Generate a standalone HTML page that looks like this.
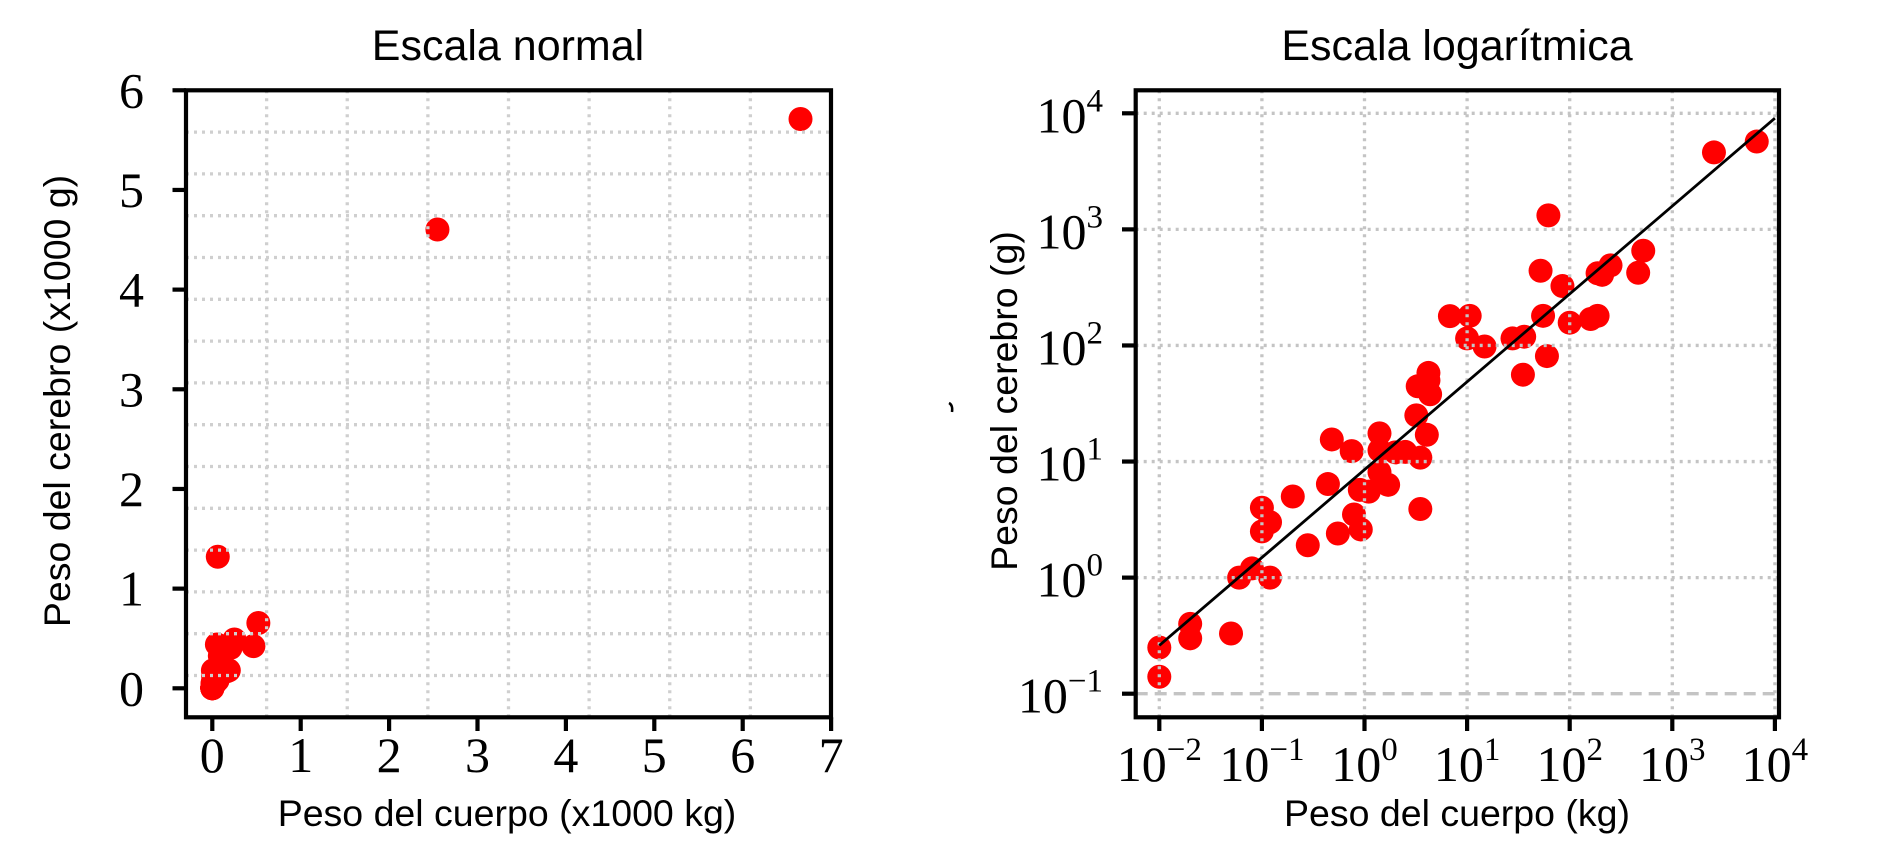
<!DOCTYPE html>
<html><head><meta charset="utf-8">
<style>
html,body{margin:0;padding:0;background:#fff;}
svg{display:block;}
.sans{font-family:"Liberation Sans",Arial,sans-serif;}
.serif{font-family:"Liberation Serif","Times New Roman",serif;}
</style></head>
<body>
<svg id="chart" width="1900" height="850" viewBox="0 0 1900 850" xmlns="http://www.w3.org/2000/svg">
<rect width="1900" height="850" fill="#fff"/>
<g id="left"></g>
<g id="right"></g>
<path d="M949 403 q4 2 3 9" stroke="#000" stroke-width="2.5" fill="none"/>
</svg>
<script>
const bodyKg = [0.01,0.01,0.02,0.02,0.05,0.06,0.08,0.12,0.1,0.1,0.12,0.2,0.28,0.44,0.48,0.55,0.75,0.79,0.9,0.92,1.1,1.4,1.4,1.4,1.7,2,2.5,3.2,3.3,3.5,3.5,4.05,4.2,4.2,4.36,6.8,10.6,10,14.8,27.7,36,35,52,55,60,62,85,100,160,187,187,207,250,465,521,2547,6654];
const brainG = [0.25,0.14,0.4,0.3,0.33,1.0,1.2,1.0,4,2.5,3,5,1.9,6.4,15.5,2.4,12.3,3.5,5.7,2.6,5.5,17.5,12.5,8.1,6.3,12,12.1,25,44.5,10.8,3.9,17,58,50,38,179,180,115,98,115,119,56,440,180,81,1320,325,157,169,180,419,406,490,423,655,4603,5712];
const linTicksX = [0,1,2,3,4,5,6,7];
const linTicksY = [0,1,2,3,4,5,6];
const logTicksX = [-2,-1,0,1,2,3,4];
const logTicksY = [-1,0,1,2,3,4];
const fitSlope = 0.757;
const fitIntercept = 0.93;
const fitRangeLog = [-2,4];

const NS = "http://www.w3.org/2000/svg";
function mk(parent, tag, attrs, text){
  const e = document.createElementNS(NS, tag);
  for (const k in attrs) e.setAttribute(k, attrs[k]);
  if (text !== undefined) e.textContent = text;
  parent.appendChild(e);
  return e;
}
const PR = 12;
const TF = 50, EF = 33;
const BW = 4.2, GW = 3.3;

// ---- Left panel (linear) ----
const L = document.getElementById('left');
const lx = v => 212.3 + v * 88.4;
const ly = v => 688.3 - v * 99.67;
const lbox = {x0:186, x1:831, y0:90.3, y1:717.3};

bodyKg.forEach((b, i) => {
  const c = mk(L, 'circle', {cx: lx(b/1000), cy: ly(brainG[i]/1000), r: PR, fill: '#ff0000'});
  
  
});
for (let k = 1; k <= 7; k++) {
  const x = lbox.x0 + k * (lbox.x1 - lbox.x0) / 8;
  const g = mk(L, 'line', {x1:x, x2:x, y1:lbox.y0, y2:lbox.y1, stroke:'#cfcfcf', 'stroke-width':GW, 'stroke-dasharray':'3,5'});
  
  
}
for (let k = 1; k <= 14; k++) {
  const y = lbox.y0 + k * (lbox.y1 - lbox.y0) / 15;
  const g = mk(L, 'line', {x1:lbox.x0, x2:lbox.x1, y1:y, y2:y, stroke:'#cfcfcf', 'stroke-width':GW, 'stroke-dasharray':'3,5'});
  
  
}
const lb = mk(L, 'rect', {x:lbox.x0, y:lbox.y0, width:lbox.x1-lbox.x0, height:lbox.y1-lbox.y0, fill:'none', stroke:'#000', 'stroke-width':BW});


linTicksX.forEach(v => {
  const t = mk(L, 'line', {x1:lx(v), x2:lx(v), y1:lbox.y1, y2:731, stroke:'#000', 'stroke-width':BW});
  
  
  const tl = mk(L, 'text', {x:lx(v), y:772, 'text-anchor':'middle', 'font-size':TF, class:'serif'}, String(v));
  
  
});
linTicksY.forEach(v => {
  const t = mk(L, 'line', {x1:172.5, x2:lbox.x0, y1:ly(v), y2:ly(v), stroke:'#000', 'stroke-width':BW});
  
  
  const tl = mk(L, 'text', {x:144, y:ly(v)+17, 'text-anchor':'end', 'font-size':TF, class:'serif'}, String(v));
  
  
});
let t1 = mk(L, 'text', {x:508, y:60, 'text-anchor':'middle', 'font-size':43, class:'sans'}, 'Escala normal');


let xl1 = mk(L, 'text', {x:507, y:826, 'text-anchor':'middle', 'font-size':37.5, class:'sans'}, 'Peso del cuerpo (x1000 kg)');


let yl1 = mk(L, 'text', {x:0, y:0, 'text-anchor':'middle', 'font-size':37.5, class:'sans', transform:'translate(70,401) rotate(-90)'}, 'Peso del cerebro (x1000 g)');



// ---- Right panel (log) ----
const R = document.getElementById('right');
const rx = lv => 1159.3 + (lv + 2) * 102.6;
const ry = lv => 693.7 - (lv + 1) * 116.08;
const rbox = {x0:1135.7, x1:1779, y0:90.3, y1:717.3};

bodyKg.forEach((b, i) => {
  const c = mk(R, 'circle', {cx: rx(Math.log10(b)), cy: ry(Math.log10(brainG[i])), r: PR, fill: '#ff0000'});
  
  
});
logTicksX.forEach(v => {
  const g = mk(R, 'line', {x1:rx(v), x2:rx(v), y1:rbox.y0, y2:rbox.y1, stroke:'#c4c4c4', 'stroke-width':GW, 'stroke-dasharray':'3,5'});
  
  
});
logTicksY.forEach(v => {
  const g = mk(R, 'line', {x1:rbox.x0, x2:rbox.x1, y1:ry(v), y2:ry(v), stroke:'#c4c4c4', 'stroke-width':GW, 'stroke-dasharray': v === -1 ? '12,7' : '3,5'});
  
  
});
const fit = mk(R, 'line', {x1:rx(fitRangeLog[0]), y1:ry(fitIntercept + fitSlope*fitRangeLog[0]), x2:rx(fitRangeLog[1]), y2:ry(fitIntercept + fitSlope*fitRangeLog[1]), stroke:'#000', 'stroke-width':2.8});


const rb = mk(R, 'rect', {x:rbox.x0, y:rbox.y0, width:rbox.x1-rbox.x0, height:rbox.y1-rbox.y0, fill:'none', stroke:'#000', 'stroke-width':BW});


logTicksX.forEach(v => {
  const t = mk(R, 'line', {x1:rx(v), x2:rx(v), y1:rbox.y1, y2:731, stroke:'#000', 'stroke-width':BW});
  
  
  const tl = mk(R, 'text', {x:rx(v), y:781, 'text-anchor':'middle', 'font-size':TF, class:'serif'});
  
  
  mk(tl, 'tspan', {}, '10');
  mk(tl, 'tspan', {'font-size':EF, dy:-21}, v < 0 ? '\u2212' + (-v) : String(v));
});
logTicksY.forEach(v => {
  const t = mk(R, 'line', {x1:1122, x2:rbox.x0, y1:ry(v), y2:ry(v), stroke:'#000', 'stroke-width':BW});
  
  
  const tl = mk(R, 'text', {x:1103, y:ry(v)+19, 'text-anchor':'end', 'font-size':TF, class:'serif'});
  
  
  mk(tl, 'tspan', {}, '10');
  mk(tl, 'tspan', {'font-size':EF, dy:-21}, v < 0 ? '\u2212' + (-v) : String(v));
});
let t2 = mk(R, 'text', {x:1457, y:60, 'text-anchor':'middle', 'font-size':43, class:'sans'}, 'Escala logarítmica');


let xl2 = mk(R, 'text', {x:1457, y:826, 'text-anchor':'middle', 'font-size':37.5, class:'sans'}, 'Peso del cuerpo (kg)');


let yl2 = mk(R, 'text', {x:0, y:0, 'text-anchor':'middle', 'font-size':37.5, class:'sans', transform:'translate(1017,401) rotate(-90)'}, 'Peso del cerebro (g)');


</script>
</body></html>
